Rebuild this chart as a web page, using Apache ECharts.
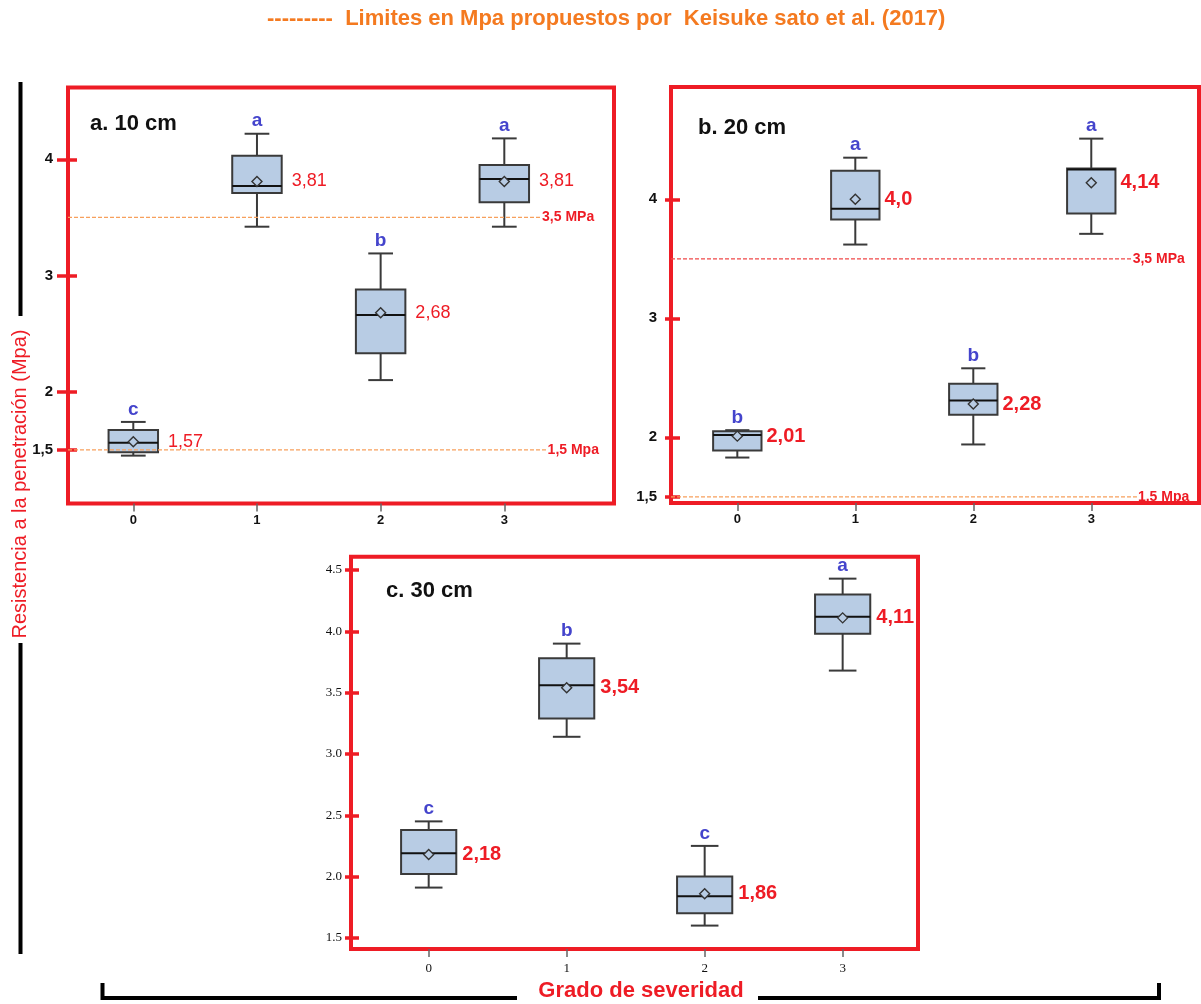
<!DOCTYPE html>
<html>
<head>
<meta charset="utf-8">
<script src="https://cdn.jsdelivr.net/npm/echarts@6/dist/echarts.min.js"></script>
<style>
  html, body { margin: 0; padding: 0; background: #ffffff; }
  #chart { width: 1201px; height: 1004px; }
</style>
</head>
<body>
<div id="chart"></div>
<script>
// Grado de severidad (x categories)
const GRADES = [0, 1, 2, 3];
const GRADE_LABELS = ['0', '1', '2', '3'];

// a. 10 cm — box statistics (MPa)
const A_MIN  = [1.45, 3.42, 2.10, 3.42];
const A_Q1   = [1.48, 3.71, 2.33, 3.63];
const A_MED  = [1.56, 3.77, 2.66, 3.83];
const A_Q3   = [1.67, 4.03, 2.88, 3.95];
const A_MAX  = [1.74, 4.22, 3.19, 4.18];
const A_MEAN = ['1,57', '3,81', '2,68', '3,81'];
const A_LETTER = ['c', 'a', 'b', 'a'];
const A_YTICKS = [1.5, 2, 3, 4];
const A_YTICK_LABELS = ['1,5', '2', '3', '4'];
const A_LIMITS = [3.5, 1.5];
const A_LIMIT_UNITS = ['MPa', 'Mpa'];

// b. 20 cm
const B_MIN  = [1.83, 3.62, 1.94, 3.71];
const B_Q1   = [1.89, 3.83, 2.19, 3.88];
const B_MED  = [2.02, 3.92, 2.31, 4.25];
const B_Q3   = [2.05, 4.24, 2.45, 4.26];
const B_MAX  = [2.06, 4.35, 2.58, 4.51];
const B_MEAN = ['2,01', '4,0', '2,28', '4,14'];
const B_LETTER = ['b', 'a', 'b', 'a'];
const B_YTICKS = [1.5, 2, 3, 4];
const B_YTICK_LABELS = ['1,5', '2', '3', '4'];
const B_LIMITS = [3.5, 1.5];
const B_LIMIT_UNITS = ['MPa', 'Mpa'];

// c. 30 cm
const C_MIN  = [1.91, 3.14, 1.60, 3.68];
const C_Q1   = [2.02, 3.29, 1.70, 3.98];
const C_MED  = [2.19, 3.56, 1.84, 4.12];
const C_Q3   = [2.38, 3.78, 2.00, 4.30];
const C_MAX  = [2.45, 3.90, 2.25, 4.43];
const C_MEAN = ['2,18', '3,54', '1,86', '4,11'];
const C_LETTER = ['c', 'b', 'c', 'a'];
const C_YTICKS = [1.5, 2.0, 2.5, 3.0, 3.5, 4.0, 4.5];
const C_YTICK_LABELS = ['1.5', '2.0', '2.5', '3.0', '3.5', '4.0', '4.5'];

const SANS = 'Liberation Sans, Arial, Helvetica, sans-serif';
const SERIF = 'Liberation Serif, Times New Roman, serif';
const RED = '#ee1c25';
const BLUE = '#4444cc';
const ORANGE = '#f47a20';
const BOX_FILL = '#b8cce4';
const BOX_EDGE = '#3a3a3a';

const parseNum = s => parseFloat(String(s).replace(',', '.'));
const fmtComma = v => String(v).replace('.', ',');

function boxData(min, q1, med, q3, max, mean) {
  return GRADES.map((g, i) => [g, min[i], q1[i], med[i], q3[i], max[i], parseNum(mean[i])]);
}

// box, half-width whisker caps, median, hollow mean diamond, mean label and group letter
function boxRenderer(boxW, meanLabels, letters, valueFont, valueGap) {
  return function (params, api) {
    const i = params.dataIndex;
    const x = api.value(0);
    const pMin = api.coord([x, api.value(1)]);
    const pQ1 = api.coord([x, api.value(2)]);
    const pMed = api.coord([x, api.value(3)]);
    const pQ3 = api.coord([x, api.value(4)]);
    const pMax = api.coord([x, api.value(5)]);
    const pMean = api.coord([x, api.value(6)]);
    const w = api.size([boxW, 0])[0];
    const cap = w / 2;
    const cx = pMed[0];
    const whisker = { stroke: BOX_EDGE, lineWidth: 2 };
    return {
      type: 'group',
      children: [
        { type: 'line', shape: { x1: cx, y1: pMax[1], x2: cx, y2: pQ3[1] }, style: whisker },
        { type: 'line', shape: { x1: cx, y1: pQ1[1], x2: cx, y2: pMin[1] }, style: whisker },
        { type: 'line', shape: { x1: cx - cap / 2, y1: pMax[1], x2: cx + cap / 2, y2: pMax[1] }, style: whisker },
        { type: 'line', shape: { x1: cx - cap / 2, y1: pMin[1], x2: cx + cap / 2, y2: pMin[1] }, style: whisker },
        { type: 'rect', shape: { x: cx - w / 2, y: pQ3[1], width: w, height: pQ1[1] - pQ3[1] },
          style: { fill: BOX_FILL, stroke: BOX_EDGE, lineWidth: 2 } },
        { type: 'line', shape: { x1: cx - w / 2, y1: pMed[1], x2: cx + w / 2, y2: pMed[1] },
          style: { stroke: '#111', lineWidth: 2 } },
        { type: 'polygon', shape: { points: [[cx, pMean[1] - 5], [cx + 5, pMean[1]], [cx, pMean[1] + 5], [cx - 5, pMean[1]]] },
          style: { fill: BOX_FILL, stroke: '#333', lineWidth: 1.4 } },
        { type: 'text', x: cx + w / 2 + valueGap, y: pMean[1],
          style: { text: meanLabels[i], fill: RED, fontFamily: SANS, fontSize: valueFont.size,
                   fontWeight: valueFont.weight, align: 'left', verticalAlign: 'middle' } },
        { type: 'text', x: cx, y: pMax[1] - 3,
          style: { text: letters[i], fill: BLUE, fontFamily: SANS, fontSize: 19,
                   fontWeight: 'bold', align: 'center', verticalAlign: 'bottom' } }
      ]
    };
  };
}

function limitSeries(xi, yi, value, unit, xFrom, xTo, lineColor) {
  return {
    type: 'line', xAxisIndex: xi, yAxisIndex: yi,
    data: [[xFrom, value], [xTo, value]],
    symbol: 'none', silent: true,
    lineStyle: { color: lineColor, width: 1.2, type: [4, 2] },
    endLabel: { show: true, formatter: fmtComma(value) + ' ' + unit, color: RED,
                fontFamily: SANS, fontSize: 14, fontWeight: 'bold', distance: 1 }
  };
}

function xAxisFor(gi, min, max, labelStyle) {
  return {
    gridIndex: gi, type: 'value', min: min, max: max, position: 'bottom',
    axisLine: { show: false, onZero: false }, splitLine: { show: false },
    axisTick: { show: true, customValues: GRADES, length: 8, lineStyle: { color: '#666', width: 1.5 } },
    axisLabel: Object.assign({ customValues: GRADES, color: '#111',
      formatter: v => GRADE_LABELS[GRADES.indexOf(Math.round(v))] }, labelStyle)
  };
}

// one y axis per panel, shifted into the frame so its red ticks cross the border
function yAxisFor(gi, min, max, ticks, tickLabels, outLen, inLen, margin, labelStyle) {
  const lookup = v => {
    const k = ticks.findIndex(t => Math.abs(t - v) < 1e-6);
    return k < 0 ? '' : tickLabels[k];
  };
  return {
    gridIndex: gi, type: 'value', min: min, max: max, position: 'left', offset: -inLen,
    axisLine: { show: false, onZero: false }, splitLine: { show: false },
    axisTick: { show: true, customValues: ticks, length: outLen + inLen, lineStyle: { color: RED, width: 3.5 } },
    axisLabel: Object.assign({ customValues: ticks, color: '#111', margin: margin + inLen, formatter: lookup }, labelStyle)
  };
}

const frame = { show: true, borderColor: RED, borderWidth: 4, backgroundColor: 'transparent' };

// axis ranges of the three panels
const A_X = [-0.528, 3.887], A_Y = [1.038, 4.618];
const B_X = [-0.562, 3.913], B_Y = [1.448, 4.944];
const C_X = [-0.563, 3.546], C_Y = [1.409, 4.609];

const option = {
  animation: false,
  backgroundColor: '#ffffff',
  grid: [
    Object.assign({ left: 68, top: 87.5, width: 546, height: 416 }, frame),
    Object.assign({ left: 671, top: 87, width: 528, height: 416 }, frame),
    Object.assign({ left: 351, top: 556.7, width: 567, height: 392.3 }, frame)
  ],
  xAxis: [
    xAxisFor(0, A_X[0], A_X[1], { margin: 10, fontFamily: SANS, fontSize: 13, fontWeight: 'bold' }),
    xAxisFor(1, B_X[0], B_X[1], { margin: 10, fontFamily: SANS, fontSize: 13, fontWeight: 'bold' }),
    xAxisFor(2, C_X[0], C_X[1], { margin: 13, fontFamily: SERIF, fontSize: 13 })
  ],
  yAxis: [
    yAxisFor(0, A_Y[0], A_Y[1], A_YTICKS, A_YTICK_LABELS, 11, 9, 15,
      { fontFamily: SANS, fontSize: 15, fontWeight: 'bold' }),
    yAxisFor(1, B_Y[0], B_Y[1], B_YTICKS, B_YTICK_LABELS, 6, 9, 14,
      { fontFamily: SANS, fontSize: 15, fontWeight: 'bold' }),
    yAxisFor(2, C_Y[0], C_Y[1], C_YTICKS, C_YTICK_LABELS, 6, 8, 9,
      { fontFamily: SERIF, fontSize: 13 })
  ],
  series: [
    limitSeries(0, 0, A_LIMITS[0], A_LIMIT_UNITS[0], A_X[0], 3.297, '#f7a05c'),
    limitSeries(0, 0, A_LIMITS[1], A_LIMIT_UNITS[1], A_X[0], 3.342, '#f7a05c'),
    limitSeries(1, 1, B_LIMITS[0], B_LIMIT_UNITS[0], B_X[0], 3.342, '#f04848'),
    limitSeries(1, 1, B_LIMITS[1], B_LIMIT_UNITS[1], B_X[0], 3.387, '#f7a05c'),
    {
      type: 'custom', xAxisIndex: 0, yAxisIndex: 0, clip: false,
      encode: { x: 0, y: [1, 2, 3, 4, 5, 6] },
      data: boxData(A_MIN, A_Q1, A_MED, A_Q3, A_MAX, A_MEAN),
      renderItem: boxRenderer(0.4, A_MEAN, A_LETTER, { size: 18, weight: 'normal' }, 10)
    },
    {
      type: 'custom', xAxisIndex: 1, yAxisIndex: 1, clip: false,
      encode: { x: 0, y: [1, 2, 3, 4, 5, 6] },
      data: boxData(B_MIN, B_Q1, B_MED, B_Q3, B_MAX, B_MEAN),
      renderItem: boxRenderer(0.41, B_MEAN, B_LETTER, { size: 20, weight: 'bold' }, 5)
    },
    {
      type: 'custom', xAxisIndex: 2, yAxisIndex: 2, clip: false,
      encode: { x: 0, y: [1, 2, 3, 4, 5, 6] },
      data: boxData(C_MIN, C_Q1, C_MED, C_Q3, C_MAX, C_MEAN),
      renderItem: boxRenderer(0.4, C_MEAN, C_LETTER, { size: 20, weight: 'bold' }, 6)
    }
  ],
  graphic: [
    { type: 'text', x: 267, y: 19,
      style: { text: '---------  Limites en Mpa propuestos por  Keisuke sato et al. (2017)',
               fill: ORANGE, fontFamily: SANS, fontSize: 22, fontWeight: 'bold', verticalAlign: 'middle' } },
    { type: 'text', x: 90, y: 124,
      style: { text: 'a. 10 cm', fill: '#111', fontFamily: SANS, fontSize: 22, fontWeight: 'bold', verticalAlign: 'middle' } },
    { type: 'text', x: 698, y: 128,
      style: { text: 'b. 20 cm', fill: '#111', fontFamily: SANS, fontSize: 22, fontWeight: 'bold', verticalAlign: 'middle' } },
    { type: 'text', x: 386, y: 591,
      style: { text: 'c. 30 cm', fill: '#111', fontFamily: SANS, fontSize: 22, fontWeight: 'bold', verticalAlign: 'middle' } },
    { type: 'text', x: 20, y: 484, rotation: Math.PI / 2,
      style: { text: 'Resistencia a la penetración (Mpa)', fill: RED, fontFamily: SANS, fontSize: 20,
               align: 'center', verticalAlign: 'middle' } },
    { type: 'line', shape: { x1: 20.5, y1: 82, x2: 20.5, y2: 316 }, style: { stroke: '#000', lineWidth: 4 } },
    { type: 'line', shape: { x1: 20.5, y1: 643, x2: 20.5, y2: 954 }, style: { stroke: '#000', lineWidth: 4 } },
    { type: 'polyline', shape: { points: [[102.5, 983], [102.5, 998], [517, 998]] },
      style: { stroke: '#000', lineWidth: 4, fill: null } },
    { type: 'polyline', shape: { points: [[758, 998], [1159, 998], [1159, 983]] },
      style: { stroke: '#000', lineWidth: 4, fill: null } },
    { type: 'text', x: 641, y: 991,
      style: { text: 'Grado de severidad', fill: RED, fontFamily: SANS, fontSize: 22, fontWeight: 'bold',
               align: 'center', verticalAlign: 'middle' } }
  ]
};

const chart = echarts.init(document.getElementById('chart'), null, { renderer: 'canvas' });
chart.setOption(option);
</script>
</body>
</html>
